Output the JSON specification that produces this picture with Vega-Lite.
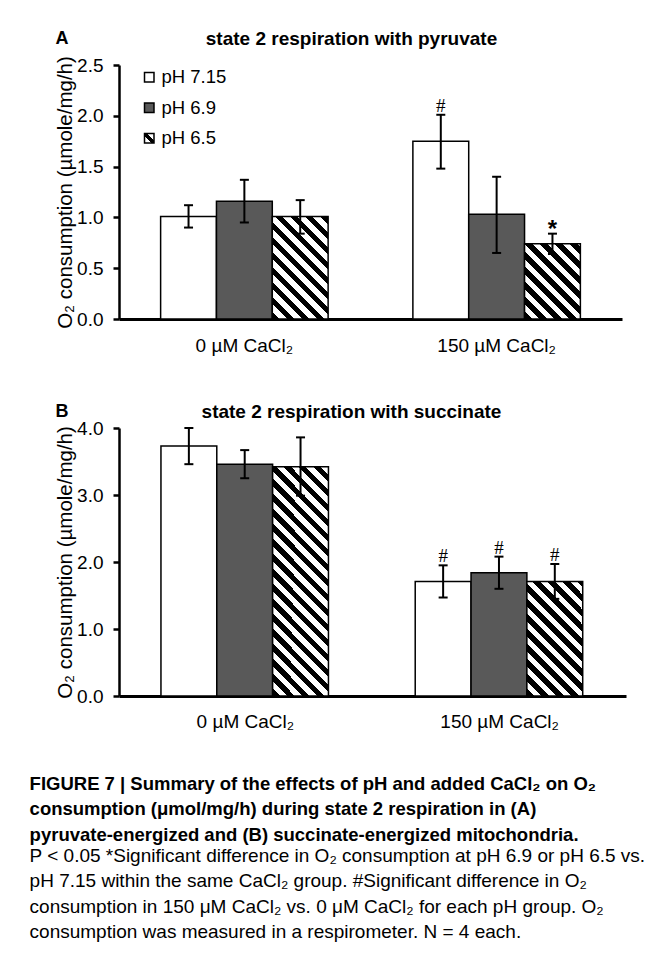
{
  "$schema": "https://vega.github.io/schema/vega-lite/v6.json",
  "background": "white",
  "padding": {"left": 29, "top": 29, "right": 5, "bottom": 5},
  "datasets": {
    "A": [
      {"cat": "0 µM CaCl₂", "ph": "pH 7.15", "value": 1.01, "lo": 0.90, "hi": 1.12, "sig": ""},
      {"cat": "0 µM CaCl₂", "ph": "pH 6.9", "value": 1.16, "lo": 0.95, "hi": 1.37, "sig": ""},
      {"cat": "0 µM CaCl₂", "ph": "pH 6.5", "value": 1.01, "lo": 0.84, "hi": 1.17, "sig": ""},
      {"cat": "150 µM CaCl₂", "ph": "pH 7.15", "value": 1.75, "lo": 1.48, "hi": 2.01, "sig": "#"},
      {"cat": "150 µM CaCl₂", "ph": "pH 6.9", "value": 1.03, "lo": 0.65, "hi": 1.40, "sig": ""},
      {"cat": "150 µM CaCl₂", "ph": "pH 6.5", "value": 0.74, "lo": 0.64, "hi": 0.84, "sig": "*"}
    ],
    "B": [
      {"cat": "0 µM CaCl₂", "ph": "pH 7.15", "value": 3.73, "lo": 3.46, "hi": 4.00, "sig": ""},
      {"cat": "0 µM CaCl₂", "ph": "pH 6.9", "value": 3.46, "lo": 3.25, "hi": 3.67, "sig": ""},
      {"cat": "0 µM CaCl₂", "ph": "pH 6.5", "value": 3.42, "lo": 2.99, "hi": 3.86, "sig": ""},
      {"cat": "150 µM CaCl₂", "ph": "pH 7.15", "value": 1.71, "lo": 1.47, "hi": 1.95, "sig": "#"},
      {"cat": "150 µM CaCl₂", "ph": "pH 6.9", "value": 1.84, "lo": 1.60, "hi": 2.08, "sig": "#"},
      {"cat": "150 µM CaCl₂", "ph": "pH 6.5", "value": 1.71, "lo": 1.45, "hi": 1.97, "sig": "#"}
    ]
  },
  "title": {
    "text": [
      "FIGURE 7 | Summary of the effects of pH and added CaCl₂ on O₂",
      "consumption (μmol/mg/h) during state 2 respiration in (A)",
      "pyruvate-energized and (B) succinate-energized mitochondria."
    ],
    "subtitle": [
      "P < 0.05 *Significant difference in O₂ consumption at pH 6.9 or pH 6.5 vs.",
      "pH 7.15 within the same CaCl₂ group. #Significant difference in O₂",
      "consumption in 150 μM CaCl₂ vs. 0 μM CaCl₂ for each pH group. O₂",
      "consumption was measured in a respirometer. N = 4 each."
    ],
    "orient": "bottom",
    "anchor": "start",
    "frame": "bounds",
    "offset": 44,
    "dx": -26,
    "font": "Liberation Sans",
    "fontSize": 18.5,
    "fontWeight": "bold",
    "lineHeight": 25.3,
    "color": "black",
    "subtitleFont": "Liberation Sans",
    "subtitleFontSize": 19,
    "subtitleFontWeight": "normal",
    "subtitleLineHeight": 25.3,
    "subtitleColor": "black",
    "subtitlePadding": 3
  },
  "spacing": 47,
  "resolve": {"scale": {"fill": "independent"}, "legend": {"fill": "independent"}},
  "vconcat": [
    {
      "width": 503,
      "height": 254,
      "data": {"name": "A"},
      "title": {"text": "A", "anchor": "start", "frame": "bounds", "offset": -19, "dx": 0, "fontSize": 18, "fontWeight": "bold", "color": "black"},
      "resolve": {"axis": {"x": "independent", "y": "independent"}},
      "encoding": {
        "x": {"field": "cat", "type": "nominal", "sort": ["0 µM CaCl₂", "150 µM CaCl₂"], "scale": {"paddingInner": 0.336, "paddingOuter": 0.165}, "axis": null},
        "xOffset": {"field": "ph", "type": "nominal", "sort": ["pH 7.15", "pH 6.9", "pH 6.5"], "scale": {"paddingInner": 0, "paddingOuter": 0}}
      },
      "layer": [
        {
          "mark": {"type": "bar", "stroke": "black", "strokeWidth": 1.5, "opacity": 1},
          "encoding": {
            "x": {"field": "cat", "type": "nominal", "sort": ["0 µM CaCl₂", "150 µM CaCl₂"], "axis": {"orient": "bottom", "title": null, "labelAngle": 0, "ticks": false, "domainWidth": 3, "labelPadding": 17, "labelFontSize": 19}},
            "y": {"field": "value", "type": "quantitative", "scale": {"domain": [0, 2.5], "nice": false}, "axis": {"orient": "left", "title": "O₂ consumption (µmole/mg/h)", "values": [0, 0.5, 1, 1.5, 2, 2.5], "format": ".1f", "domainWidth": 2.5, "tickWidth": 2.5, "tickSize": 6, "labelPadding": 10, "labelFontSize": 19, "titleFontSize": 20.5, "titlePadding": 1}},
            "fill": {
              "field": "ph", "type": "nominal",
              "scale": {"domain": ["pH 7.15", "pH 6.9", "pH 6.5"], "range": ["#ffffff", "#595959", {"expr": "{gradient: 'linear', x1: 0, y1: 1, x2: 1, y2: 0, stops: [{offset: 0, color: '#fff'}, {offset: 0.36, color: '#fff'}, {offset: 0.36, color: '#000'}, {offset: 0.64, color: '#000'}, {offset: 0.64, color: '#fff'}, {offset: 1, color: '#fff'}]}"}]},
              "legend": {
                "orient": "none", "legendX": 21, "legendY": 3, "title": null,
                "symbolType": "square", "symbolSize": 90, "symbolStrokeWidth": 1.5, "symbolOpacity": 1,
                "labelFontSize": 18.5, "labelColor": "black", "labelOffset": 3, "rowPadding": 11.5
              },
              "condition": [
                {"test": "datum.cat === '0 µM CaCl₂' && datum.ph === 'pH 6.5'", "value": {"gradient": "linear", "x1": 0, "y1": 1, "x2": 1, "y2": -0.8387, "stops": [
                  {"offset": 0, "color": "#000"}, {"offset": 0.0307, "color": "#000"}, {"offset": 0.0307, "color": "#fff"}, {"offset": 0.0614, "color": "#fff"}, {"offset": 0.0614, "color": "#000"}, {"offset": 0.0920, "color": "#000"}, {"offset": 0.0920, "color": "#fff"}, {"offset": 0.1227, "color": "#fff"}, {"offset": 0.1227, "color": "#000"}, {"offset": 0.1534, "color": "#000"}, {"offset": 0.1534, "color": "#fff"}, {"offset": 0.1841, "color": "#fff"}, {"offset": 0.1841, "color": "#000"}, {"offset": 0.2148, "color": "#000"}, {"offset": 0.2148, "color": "#fff"}, {"offset": 0.2454, "color": "#fff"}, {"offset": 0.2454, "color": "#000"}, {"offset": 0.2761, "color": "#000"}, {"offset": 0.2761, "color": "#fff"}, {"offset": 0.3068, "color": "#fff"}, {"offset": 0.3068, "color": "#000"}, {"offset": 0.3375, "color": "#000"}, {"offset": 0.3375, "color": "#fff"}, {"offset": 0.3682, "color": "#fff"}, {"offset": 0.3682, "color": "#000"}, {"offset": 0.3989, "color": "#000"}, {"offset": 0.3989, "color": "#fff"}, {"offset": 0.4295, "color": "#fff"}, {"offset": 0.4295, "color": "#000"}, {"offset": 0.4602, "color": "#000"}, {"offset": 0.4602, "color": "#fff"}, {"offset": 0.4909, "color": "#fff"}, {"offset": 0.4909, "color": "#000"}, {"offset": 0.5216, "color": "#000"}, {"offset": 0.5216, "color": "#fff"}, {"offset": 0.5523, "color": "#fff"}, {"offset": 0.5523, "color": "#000"}, {"offset": 0.5829, "color": "#000"}, {"offset": 0.5829, "color": "#fff"}, {"offset": 0.6136, "color": "#fff"}, {"offset": 0.6136, "color": "#000"}, {"offset": 0.6443, "color": "#000"}, {"offset": 0.6443, "color": "#fff"}, {"offset": 1, "color": "#fff"}
                ]}},
                {"test": "datum.cat === '150 µM CaCl₂' && datum.ph === 'pH 6.5'", "value": {"gradient": "linear", "x1": 0, "y1": 1, "x2": 1, "y2": -0.3477, "stops": [
                  {"offset": 0, "color": "#000"}, {"offset": 0.0477, "color": "#000"}, {"offset": 0.0477, "color": "#fff"}, {"offset": 0.0955, "color": "#fff"}, {"offset": 0.0955, "color": "#000"}, {"offset": 0.1432, "color": "#000"}, {"offset": 0.1432, "color": "#fff"}, {"offset": 0.1909, "color": "#fff"}, {"offset": 0.1909, "color": "#000"}, {"offset": 0.2386, "color": "#000"}, {"offset": 0.2386, "color": "#fff"}, {"offset": 0.2864, "color": "#fff"}, {"offset": 0.2864, "color": "#000"}, {"offset": 0.3341, "color": "#000"}, {"offset": 0.3341, "color": "#fff"}, {"offset": 0.3818, "color": "#fff"}, {"offset": 0.3818, "color": "#000"}, {"offset": 0.4295, "color": "#000"}, {"offset": 0.4295, "color": "#fff"}, {"offset": 0.4773, "color": "#fff"}, {"offset": 0.4773, "color": "#000"}, {"offset": 0.5250, "color": "#000"}, {"offset": 0.5250, "color": "#fff"}, {"offset": 0.5727, "color": "#fff"}, {"offset": 0.5727, "color": "#000"}, {"offset": 0.6205, "color": "#000"}, {"offset": 0.6205, "color": "#fff"}, {"offset": 0.6682, "color": "#fff"}, {"offset": 0.6682, "color": "#000"}, {"offset": 0.7159, "color": "#000"}, {"offset": 0.7159, "color": "#fff"}, {"offset": 0.7636, "color": "#fff"}, {"offset": 0.7636, "color": "#000"}, {"offset": 0.8114, "color": "#000"}, {"offset": 0.8114, "color": "#fff"}, {"offset": 1, "color": "#fff"}
                ]}}
              ]
            }
          }
        },
        {
          "mark": {"type": "rule", "color": "black", "strokeWidth": 2},
          "encoding": {
            "x": {"field": "cat", "type": "nominal", "sort": ["0 µM CaCl₂", "150 µM CaCl₂"], "axis": {"orient": "top", "title": "state 2 respiration with pyruvate", "labels": false, "ticks": false, "domain": false, "titleFontSize": 19, "titleFontWeight": "bold", "titlePadding": 17, "titleX": 232}},
            "y": {"field": "lo", "type": "quantitative", "axis": null},
            "y2": {"field": "hi"}
          }
        },
        {
          "mark": {"type": "tick", "color": "black", "size": 9, "thickness": 2, "opacity": 1},
          "encoding": {"y": {"field": "lo", "type": "quantitative", "axis": null}}
        },
        {
          "mark": {"type": "tick", "color": "black", "size": 9, "thickness": 2, "opacity": 1},
          "encoding": {"y": {"field": "hi", "type": "quantitative", "axis": null}}
        },
        {
          "transform": [{"filter": "datum.sig === '#'"}],
          "mark": {"type": "text", "font": "Liberation Serif", "fontSize": 19, "baseline": "middle", "dy": -9, "color": "black"},
          "encoding": {"y": {"field": "hi", "type": "quantitative", "axis": null}, "text": {"field": "sig"}}
        },
        {
          "transform": [{"filter": "datum.sig === '*'"}],
          "mark": {"type": "text", "fontSize": 24, "fontWeight": "bold", "baseline": "middle", "dy": -4, "color": "black"},
          "encoding": {"y": {"field": "hi", "type": "quantitative", "axis": null}, "text": {"field": "sig"}}
        }
      ]
    },
    {
      "width": 507,
      "height": 268,
      "data": {"name": "B"},
      "title": {"text": "B", "anchor": "start", "frame": "bounds", "offset": -19, "dx": 0, "fontSize": 18, "fontWeight": "bold", "color": "black"},
      "resolve": {"axis": {"x": "independent", "y": "independent"}},
      "encoding": {
        "x": {"field": "cat", "type": "nominal", "sort": ["0 µM CaCl₂", "150 µM CaCl₂"], "scale": {"paddingInner": 0.336, "paddingOuter": 0.165}, "axis": null},
        "xOffset": {"field": "ph", "type": "nominal", "sort": ["pH 7.15", "pH 6.9", "pH 6.5"], "scale": {"paddingInner": 0, "paddingOuter": 0}}
      },
      "layer": [
        {
          "mark": {"type": "bar", "stroke": "black", "strokeWidth": 1.5, "opacity": 1},
          "encoding": {
            "x": {"field": "cat", "type": "nominal", "sort": ["0 µM CaCl₂", "150 µM CaCl₂"], "axis": {"orient": "bottom", "title": null, "labelAngle": 0, "ticks": false, "domainWidth": 3, "labelPadding": 16, "labelFontSize": 19}},
            "y": {"field": "value", "type": "quantitative", "scale": {"domain": [0, 4], "nice": false}, "axis": {"orient": "left", "title": "O₂ consumption (µmole/mg/h)", "values": [0, 1, 2, 3, 4], "format": ".1f", "domainWidth": 2.5, "tickWidth": 2.5, "tickSize": 6, "labelPadding": 10, "labelFontSize": 19, "titleFontSize": 20.5, "titlePadding": 1}},
            "fill": {
              "field": "ph", "type": "nominal",
              "scale": {"domain": ["pH 7.15", "pH 6.9", "pH 6.5"], "range": ["#ffffff", "#595959", "#ffffff"]},
              "legend": null,
              "condition": [
                {"test": "datum.cat === '0 µM CaCl₂' && datum.ph === 'pH 6.5'", "value": {"gradient": "linear", "x1": 0, "y1": 1, "x2": 1, "y2": -3.0765, "stops": [
                  {"offset": 0, "color": "#000"}, {"offset": 0.00757, "color": "#000"}, {"offset": 0.00757, "color": "#fff"}, {"offset": 0.01515, "color": "#fff"}, {"offset": 0.01515, "color": "#000"}, {"offset": 0.02272, "color": "#000"}, {"offset": 0.02272, "color": "#fff"}, {"offset": 0.03030, "color": "#fff"}, {"offset": 0.03030, "color": "#000"}, {"offset": 0.03787, "color": "#000"}, {"offset": 0.03787, "color": "#fff"}, {"offset": 0.04545, "color": "#fff"}, {"offset": 0.04545, "color": "#000"}, {"offset": 0.05302, "color": "#000"}, {"offset": 0.05302, "color": "#fff"}, {"offset": 0.06060, "color": "#fff"}, {"offset": 0.06060, "color": "#000"}, {"offset": 0.06817, "color": "#000"}, {"offset": 0.06817, "color": "#fff"}, {"offset": 0.07575, "color": "#fff"}, {"offset": 0.07575, "color": "#000"}, {"offset": 0.08332, "color": "#000"}, {"offset": 0.08332, "color": "#fff"}, {"offset": 0.09090, "color": "#fff"}, {"offset": 0.09090, "color": "#000"}, {"offset": 0.09847, "color": "#000"}, {"offset": 0.09847, "color": "#fff"}, {"offset": 0.10604, "color": "#fff"}, {"offset": 0.10604, "color": "#000"}, {"offset": 0.11362, "color": "#000"}, {"offset": 0.11362, "color": "#fff"}, {"offset": 0.12119, "color": "#fff"}, {"offset": 0.12119, "color": "#000"}, {"offset": 0.12877, "color": "#000"}, {"offset": 0.12877, "color": "#fff"}, {"offset": 0.13634, "color": "#fff"}, {"offset": 0.13634, "color": "#000"}, {"offset": 0.14392, "color": "#000"}, {"offset": 0.14392, "color": "#fff"}, {"offset": 0.15149, "color": "#fff"}, {"offset": 0.15149, "color": "#000"}, {"offset": 0.15907, "color": "#000"}, {"offset": 0.15907, "color": "#fff"}, {"offset": 0.16664, "color": "#fff"}, {"offset": 0.16664, "color": "#000"}, {"offset": 0.17422, "color": "#000"}, {"offset": 0.17422, "color": "#fff"}, {"offset": 0.18179, "color": "#fff"}, {"offset": 0.18179, "color": "#000"}, {"offset": 0.18937, "color": "#000"}, {"offset": 0.18937, "color": "#fff"}, {"offset": 0.19694, "color": "#fff"}, {"offset": 0.19694, "color": "#000"}, {"offset": 0.20451, "color": "#000"}, {"offset": 0.20451, "color": "#fff"}, {"offset": 0.21209, "color": "#fff"}, {"offset": 0.21209, "color": "#000"}, {"offset": 0.21966, "color": "#000"}, {"offset": 0.21966, "color": "#fff"}, {"offset": 0.22724, "color": "#fff"}, {"offset": 0.22724, "color": "#000"}, {"offset": 0.23481, "color": "#000"}, {"offset": 0.23481, "color": "#fff"}, {"offset": 0.24239, "color": "#fff"}, {"offset": 0.24239, "color": "#000"}, {"offset": 0.24996, "color": "#000"}, {"offset": 0.24996, "color": "#fff"}, {"offset": 0.25754, "color": "#fff"}, {"offset": 0.25754, "color": "#000"}, {"offset": 0.26511, "color": "#000"}, {"offset": 0.26511, "color": "#fff"}, {"offset": 0.27269, "color": "#fff"}, {"offset": 0.27269, "color": "#000"}, {"offset": 0.28026, "color": "#000"}, {"offset": 0.28026, "color": "#fff"}, {"offset": 0.28783, "color": "#fff"}, {"offset": 0.28783, "color": "#000"}, {"offset": 1, "color": "#000"}
                ]}},
                {"test": "datum.cat === '150 µM CaCl₂' && datum.ph === 'pH 6.5'", "value": {"gradient": "linear", "x1": 0, "y1": 1, "x2": 1, "y2": -1.0391, "stops": [
                  {"offset": 0, "color": "#000"}, {"offset": 0.02587, "color": "#000"}, {"offset": 0.02587, "color": "#fff"}, {"offset": 0.05174, "color": "#fff"}, {"offset": 0.05174, "color": "#000"}, {"offset": 0.07762, "color": "#000"}, {"offset": 0.07762, "color": "#fff"}, {"offset": 0.10349, "color": "#fff"}, {"offset": 0.10349, "color": "#000"}, {"offset": 0.12936, "color": "#000"}, {"offset": 0.12936, "color": "#fff"}, {"offset": 0.15523, "color": "#fff"}, {"offset": 0.15523, "color": "#000"}, {"offset": 0.18110, "color": "#000"}, {"offset": 0.18110, "color": "#fff"}, {"offset": 0.20698, "color": "#fff"}, {"offset": 0.20698, "color": "#000"}, {"offset": 0.23285, "color": "#000"}, {"offset": 0.23285, "color": "#fff"}, {"offset": 0.25872, "color": "#fff"}, {"offset": 0.25872, "color": "#000"}, {"offset": 0.28459, "color": "#000"}, {"offset": 0.28459, "color": "#fff"}, {"offset": 0.31046, "color": "#fff"}, {"offset": 0.31046, "color": "#000"}, {"offset": 0.33634, "color": "#000"}, {"offset": 0.33634, "color": "#fff"}, {"offset": 0.36221, "color": "#fff"}, {"offset": 0.36221, "color": "#000"}, {"offset": 0.38808, "color": "#000"}, {"offset": 0.38808, "color": "#fff"}, {"offset": 0.41395, "color": "#fff"}, {"offset": 0.41395, "color": "#000"}, {"offset": 0.43982, "color": "#000"}, {"offset": 0.43982, "color": "#fff"}, {"offset": 0.46570, "color": "#fff"}, {"offset": 0.46570, "color": "#000"}, {"offset": 0.49157, "color": "#000"}, {"offset": 0.49157, "color": "#fff"}, {"offset": 0.51744, "color": "#fff"}, {"offset": 0.51744, "color": "#000"}, {"offset": 0.54331, "color": "#000"}, {"offset": 0.54331, "color": "#fff"}, {"offset": 0.56918, "color": "#fff"}, {"offset": 0.56918, "color": "#000"}, {"offset": 1, "color": "#000"}
                ]}}
              ]
            }
          }
        },
        {
          "mark": {"type": "rule", "color": "black", "strokeWidth": 2},
          "encoding": {
            "x": {"field": "cat", "type": "nominal", "sort": ["0 µM CaCl₂", "150 µM CaCl₂"], "axis": {"orient": "top", "title": "state 2 respiration with succinate", "labels": false, "ticks": false, "domain": false, "titleFontSize": 19, "titleFontWeight": "bold", "titlePadding": 7, "titleX": 232}},
            "y": {"field": "lo", "type": "quantitative", "axis": null},
            "y2": {"field": "hi"}
          }
        },
        {
          "mark": {"type": "tick", "color": "black", "size": 9, "thickness": 2, "opacity": 1},
          "encoding": {"y": {"field": "lo", "type": "quantitative", "axis": null}}
        },
        {
          "mark": {"type": "tick", "color": "black", "size": 9, "thickness": 2, "opacity": 1},
          "encoding": {"y": {"field": "hi", "type": "quantitative", "axis": null}}
        },
        {
          "transform": [{"filter": "datum.sig === '#'"}],
          "mark": {"type": "text", "font": "Liberation Serif", "fontSize": 19, "baseline": "middle", "dy": -9, "color": "black"},
          "encoding": {"y": {"field": "hi", "type": "quantitative", "axis": null}, "text": {"field": "sig"}}
        }
      ]
    }
  ],
  "config": {
    "font": "Liberation Sans",
    "view": {"stroke": null},
    "axis": {
      "grid": false,
      "domainColor": "black",
      "tickColor": "black",
      "labelColor": "black",
      "titleColor": "black",
      "labelFont": "Liberation Sans",
      "titleFont": "Liberation Sans",
      "labelFontSize": 18,
      "titleFontSize": 18,
      "titleFontWeight": "normal"
    },
    "title": {"font": "Liberation Sans", "color": "black"},
    "legend": {"labelFont": "Liberation Sans"}
  }
}
